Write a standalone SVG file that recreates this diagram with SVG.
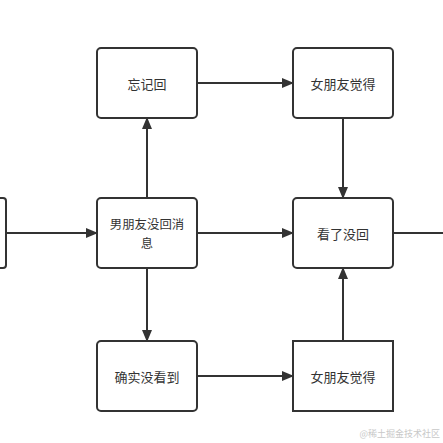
<svg xmlns="http://www.w3.org/2000/svg" width="443" height="443" viewBox="0 0 443 443">
<defs>
<marker id="ah" markerWidth="12" markerHeight="10" refX="11" refY="5" orient="auto" markerUnits="userSpaceOnUse">
<path d="M0,0 L12,5 L0,10 Z" fill="#333"/>
</marker>
<style>
.box{fill:#fff;stroke:#333;stroke-width:2}
.lbl{font-family:"Noto Sans CJK SC","Liberation Sans",sans-serif;font-size:13px;fill:#333;text-anchor:middle;dominant-baseline:central}
.sm{font-size:12.4px}
.edge{stroke:#333;stroke-width:2;fill:none}
</style>
</defs>
<rect width="443" height="443" fill="#fff"/>
<g id="connectors">
<line class="edge" x1="6" y1="233" x2="97" y2="233" marker-end="url(#ah)"/>
<line class="edge" x1="197" y1="233" x2="293" y2="233" marker-end="url(#ah)"/>
<line class="edge" x1="147" y1="198" x2="147" y2="118" marker-end="url(#ah)"/>
<line class="edge" x1="147" y1="268" x2="147" y2="341" marker-end="url(#ah)"/>
<line class="edge" x1="197" y1="83" x2="293" y2="83" marker-end="url(#ah)"/>
<line class="edge" x1="343" y1="118" x2="343" y2="198" marker-end="url(#ah)"/>
<line class="edge" x1="197" y1="376" x2="293" y2="376" marker-end="url(#ah)"/>
<line class="edge" x1="343" y1="341" x2="343" y2="268" marker-end="url(#ah)"/>
<line class="edge" x1="393" y1="233" x2="443" y2="233"/>
</g>
<g id="node-left"><rect class="box" x="-20" y="198" width="26" height="70" rx="3"/></g>
<g id="node-main"><rect class="box" x="97" y="198" width="100" height="70" rx="4"/>
<text class="lbl sm" x="147" y="224">男朋友没回消</text><text class="lbl sm" x="147" y="242.5">息</text></g>
<g id="node-forget"><rect class="box" x="97" y="48" width="100" height="70" rx="4"/><text class="lbl" x="147" y="83">忘记回</text></g>
<g id="node-gf1"><rect class="box" x="293" y="48" width="100" height="70" rx="4"/><text class="lbl" x="343" y="83">女朋友觉得</text></g>
<g id="node-seen"><rect class="box" x="293" y="198" width="100" height="70" rx="4"/><text class="lbl" x="343" y="233">看了没回</text></g>
<g id="node-notseen"><rect class="box" x="97" y="341" width="100" height="70" rx="4"/><text class="lbl" x="147" y="376">确实没看到</text></g>
<g id="node-gf2"><rect class="box" x="293" y="341" width="100" height="70"/><text class="lbl" x="343" y="376">女朋友觉得</text></g>
<text x="440" y="437" font-family="Noto Sans CJK SC,sans-serif" font-size="9" fill="#c8c8c8" text-anchor="end">@稀土掘金技术社区</text>
</svg>
